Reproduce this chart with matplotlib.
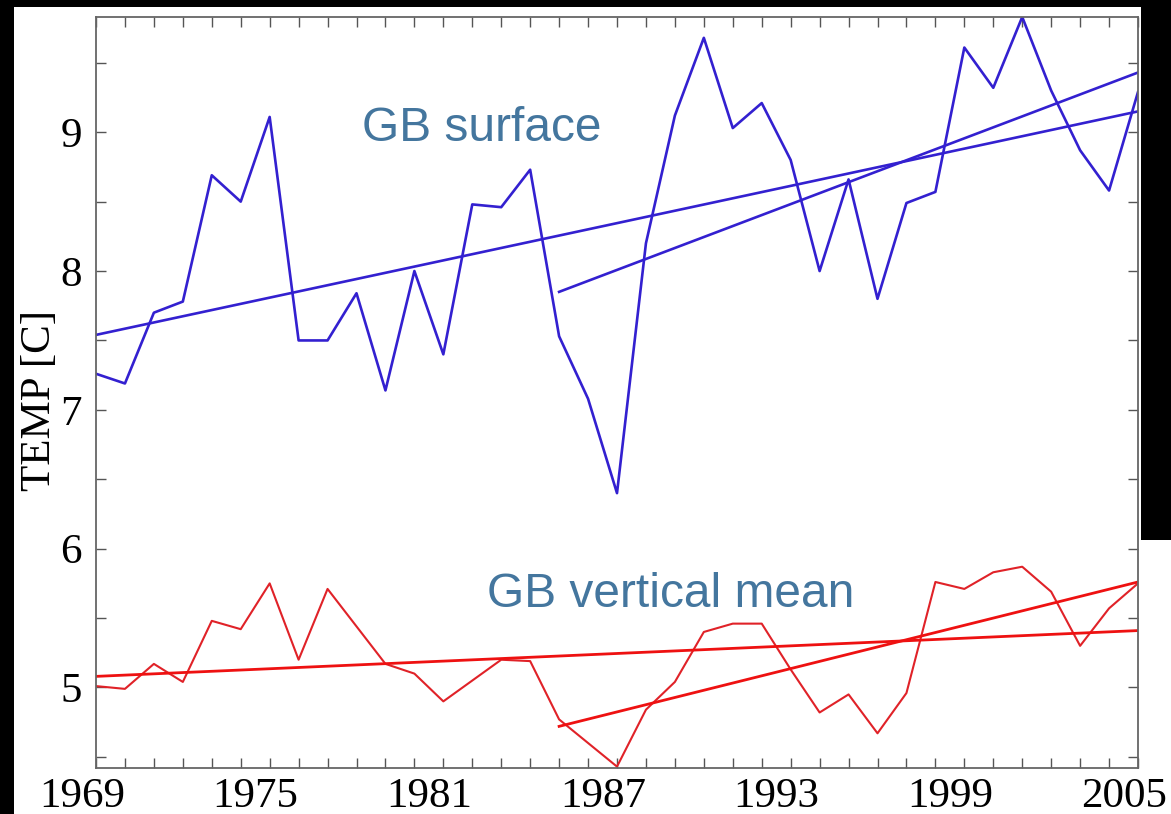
import matplotlib
matplotlib.use("Agg")
from matplotlib import pyplot as plt
from matplotlib.patches import Rectangle
from matplotlib.ticker import MultipleLocator
from matplotlib.transforms import ScaledTranslation

years = list(range(1969, 2006))

gb_surface = [7.26, 7.19, 7.70, 7.78, 8.69, 8.50, 9.11, 7.50, 7.50, 7.84,
              7.14, 8.00, 7.40, 8.48, 8.46, 8.73, 7.53, 7.08, 6.40, 8.20,
              9.12, 9.68, 9.03, 9.21, 8.80, 8.00, 8.66, 7.80, 8.49, 8.57,
              9.61, 9.32, 9.83, 9.30, 8.87, 8.58, 9.29]

gb_vertical = [5.01, 4.99, 5.17, 5.04, 5.48, 5.42, 5.75, 5.20, 5.71, 5.44,
               5.17, 5.10, 4.90, 5.05, 5.20, 5.19, 4.77, 4.60, 4.43, 4.84,
               5.04, 5.40, 5.46, 5.46, 5.13, 4.82, 4.95, 4.67, 4.96, 5.76,
               5.71, 5.83, 5.87, 5.69, 5.30, 5.57, 5.75]

# trend line end points
trend_long_years = [1969, 2005]
trend_short_years = [1985, 2005]
surf_trend_long = [7.54, 9.15]
surf_trend_short = [7.85, 9.43]
vert_trend_long = [5.08, 5.41]
vert_trend_short = [4.72, 5.76]

W, H = 1171, 814
fig = plt.figure(figsize=(W / 100, H / 100), dpi=100, facecolor="black")
# white panel inside the black frame (the right black strip stops above the x labels)
fig.patches.append(Rectangle((14 / W, 0), (1141 - 14) / W, 1 - 7 / H,
                             transform=fig.transFigure, facecolor="white",
                             edgecolor="none", zorder=-2))
fig.patches.append(Rectangle((14 / W, 0), 1 - 14 / W, 1 - 540 / H,
                             transform=fig.transFigure, facecolor="white",
                             edgecolor="none", zorder=-2))

ax = fig.add_axes([96 / W, 1 - 768 / H, (1138 - 96) / W, (768 - 17) / H])
ax.set_facecolor("white")

blue = "#3320d0"
red = "#e02228"
ax.plot(years, gb_surface, color=blue, lw=1.9)
ax.plot(trend_long_years, surf_trend_long, color=blue, lw=1.9)
ax.plot(trend_short_years, surf_trend_short, color=blue, lw=1.9)
ax.plot(years, gb_vertical, color=red, lw=1.5)
ax.plot(trend_long_years, vert_trend_long, color="#ee1111", lw=2.0)
ax.plot(trend_short_years, vert_trend_short, color="#ee1111", lw=2.0)

ax.set_xlim(1969, 2005)
ax.set_ylim(4.42, 9.83)
ax.set_xticks(range(1969, 2006, 6))
ax.xaxis.set_minor_locator(MultipleLocator(1))
ax.set_yticks([5, 6, 7, 8, 9])
ax.yaxis.set_minor_locator(MultipleLocator(0.5))

ax.tick_params(which="both", direction="in", top=True, right=True,
               length=7, width=1.0, color="#555555")
ax.tick_params(axis="x", which="major", pad=7)
ax.tick_params(axis="y", which="major", pad=10)
for lab in ax.get_xticklabels() + ax.get_yticklabels():
    lab.set_family("Liberation Serif")
    lab.set_fontsize(31)
# the year labels sit a little left of their ticks in the original
shift = ScaledTranslation(-14 / 100, 0, fig.dpi_scale_trans)
for lab in ax.get_xticklabels():
    lab.set_transform(lab.get_transform() + shift)
for sp in ax.spines.values():
    sp.set_color("#666666")
    sp.set_linewidth(1.3)

fig.text(40 / W, 1 - 400 / H, "TEMP [C]", rotation=90, ha="center",
         va="center", family="Liberation Serif", fontsize=31)

txt_color = "#44769e"
ax.text(1978.2, 8.94, "GB surface", color=txt_color, fontsize=34.5,
        family="Liberation Sans", ha="left", va="baseline")
ax.text(1982.5, 5.58, "GB vertical mean", color=txt_color, fontsize=34.5,
        family="Liberation Sans", ha="left", va="baseline")

fig.savefig("out.png", dpi=100, facecolor=fig.get_facecolor())
